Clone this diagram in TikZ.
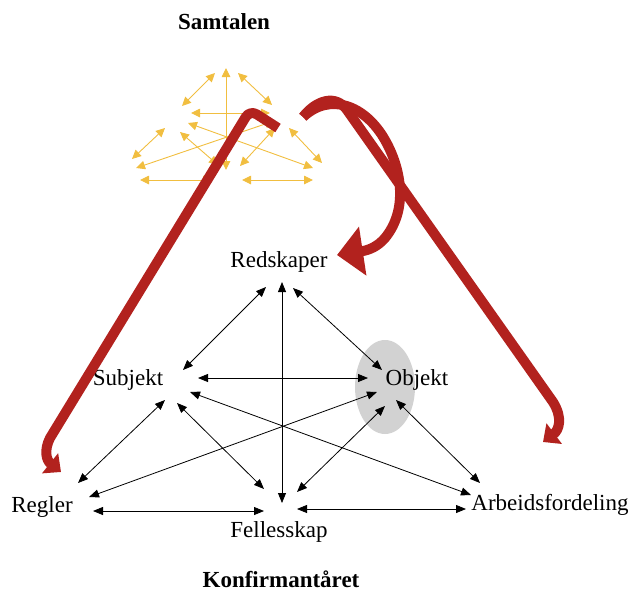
\documentclass[tikz,border=0pt]{standalone}
\usepackage{fontspec}
\setmainfont{Liberation Serif}
\usetikzlibrary{arrows.meta}
\definecolor{samgold}{RGB}{241,190,64}
\definecolor{loopred}{RGB}{178,34,30}
\definecolor{objgray}{RGB}{210,210,210}
\tikzset{
  tlabel/.style={font=\fontsize{23}{27}\selectfont, anchor=base, inner sep=0pt},
  headtitle/.style={font=\fontsize{23}{27}\selectfont\bfseries, anchor=base, inner sep=0pt},
  blink/.style={line width=0.8pt, {Triangle[length=10pt,width=8pt]}-{Triangle[length=10pt,width=8pt]}},
  minilink/.style={samgold, line width=0.9pt, {Triangle[length=9pt,width=8.5pt]}-{Triangle[length=9pt,width=8.5pt]}},
  redloop/.style={loopred, line width=10pt, line join=round, -{Triangle[length=14pt,width=25pt]}},
}
\begin{document}
\begin{tikzpicture}[x=1pt,y=-1pt]
\useasboundingbox (0,0) rectangle (631,592);

% highlighted object
\fill[objgray] (385,387) ellipse [x radius=30pt, y radius=47pt];

% labels
\node[headtitle] (samtalen) at (224,29) {Samtalen};
\node[tlabel] (redskaper) at (279,267) {Redskaper};
\node[tlabel] (subjekt) at (128,385) {Subjekt};
\node[tlabel] (objekt) at (417,385) {Objekt};
\node[tlabel] (regler) at (42,512) {Regler};
\node[tlabel] (fellesskap) at (279,537) {Fellesskap};
\node[tlabel] (arbeid) at (550,510) {Arbeidsfordeling};
\node[headtitle] (konf) at (281,587) {Konfirmantåret};

% activity system: arrow ends around each corner
\coordinate (Tl) at (266,287);  \coordinate (Tc) at (282,282);  \coordinate (Tr) at (293,288);
\coordinate (Lt) at (183,370);  \coordinate (Lr) at (198,378);  \coordinate (Lbl) at (165,400);
\coordinate (Lb) at (177,403);  \coordinate (Lbr) at (190,392);
\coordinate (Rt) at (382,370);  \coordinate (Rl) at (368,378);  \coordinate (Rbl) at (377,392);
\coordinate (Rb) at (385,406);  \coordinate (Rbr) at (396,400);
\coordinate (BLl) at (78,483);  \coordinate (BLr) at (89,497);  \coordinate (BLb) at (93,511);
\coordinate (Bt) at (282,503);  \coordinate (Bl) at (264,489);  \coordinate (Br) at (297,492);
\coordinate (Bhl) at (264,511); \coordinate (Bhr) at (297,509);
\coordinate (BRl) at (471,495); \coordinate (BRr) at (480,483); \coordinate (BRh) at (466,509);

\draw[blink] (Tl) -- (Lt);
\draw[blink] (Tc) -- (Bt);
\draw[blink] (Tr) -- (Rt);
\draw[blink] (Lr) -- (Rl);
\draw[blink] (Lbl) -- (BLl);
\draw[blink] (Lb) -- (Bl);
\draw[blink] (Lbr) -- (BRl);
\draw[blink] (Rbl) -- (BLr);
\draw[blink] (Rb) -- (Br);
\draw[blink] (Rbr) -- (BRr);
\draw[blink] (BLb) -- (Bhl);
\draw[blink] (Bhr) -- (BRh);

% small copy of the system for the conversation
\coordinate (mTl) at (215,73);  \coordinate (mTc) at (226,68);  \coordinate (mTr) at (238,73);
\coordinate (mLt) at (182,106); \coordinate (mLr) at (191,113); \coordinate (mLbl) at (165,128);
\coordinate (mLb) at (180,132); \coordinate (mLbr) at (188,123);
\coordinate (mRt) at (272,105); \coordinate (mRl) at (270,113); \coordinate (mRbl) at (274,121);
\coordinate (mRb) at (275,128); \coordinate (mRbr) at (289,128);
\coordinate (mBLl) at (132,159); \coordinate (mBLr) at (136,168); \coordinate (mBLb) at (140,180);
\coordinate (mBt) at (226,170); \coordinate (mBl) at (218,165); \coordinate (mBr) at (240,166);
\coordinate (mBhl) at (212,180); \coordinate (mBhr) at (242,180);
\coordinate (mBRl) at (313,168); \coordinate (mBRr) at (322,163); \coordinate (mBRh) at (313,180);

\draw[minilink] (mTl) -- (mLt);
\draw[minilink] (mTc) -- (mBt);
\draw[minilink] (mTr) -- (mRt);
\draw[minilink] (mLr) -- (mRl);
\draw[minilink] (mLbl) -- (mBLl);
\draw[minilink] (mLb) -- (mBl);
\draw[minilink] (mLbr) -- (mBRl);
\draw[minilink] (mRbl) -- (mBLr);
\draw[minilink] (mRb) -- (mBr);
\draw[minilink] (mRbr) -- (mBRr);
\draw[minilink] (mBLb) -- (mBhl);
\draw[minilink] (mBhr) -- (mBRh);

% thick red transfer arrows
\draw[redloop] (278,128) [rounded corners=8pt] -- (250,110) [sharp corners] -- (50,438)
  .. controls (44,450) and (46,460) .. (61,472);
\draw[redloop] (303,117) .. controls (316,100) and (336,94) .. (347,110) -- (553,402)
  .. controls (563,418) and (559,430) .. (543,442);
\draw[redloop, -{Triangle[length=26pt,width=48pt]}] (303,117)
  .. controls (330,92) and (365,105) .. (385,140)
  .. controls (402,170) and (408,210) .. (385,238)
  .. controls (378,246) and (370,250) .. (337,255);
\end{tikzpicture}
\end{document}
